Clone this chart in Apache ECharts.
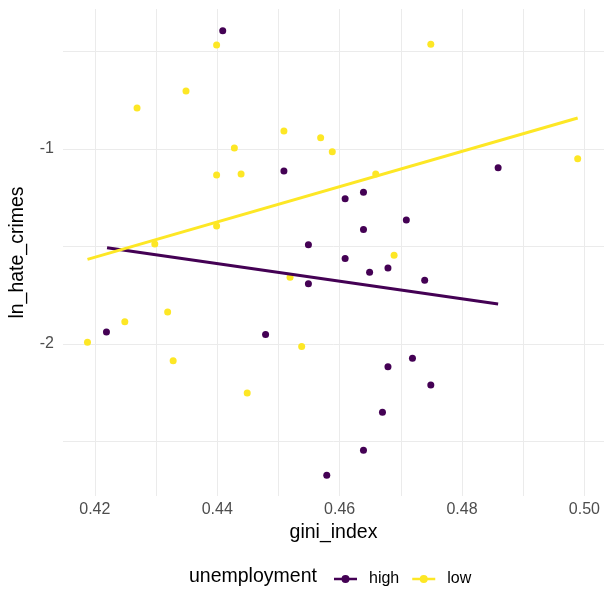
<!DOCTYPE html>
<html>
<head>
<meta charset="utf-8">
<script src="https://cdn.jsdelivr.net/npm/echarts@6/dist/echarts.min.js"></script>
<style>
html,body{margin:0;padding:0;background:#fff;}
#chart{width:604px;height:589px;}
</style>
</head>
<body>
<div id="chart"></div>
<script>
// ---- data ----
const giniHigh = [0.4409, 0.4509, 0.4859, 0.4609, 0.4639, 0.4709, 0.4639, 0.4549, 0.4609, 0.4679, 0.4649, 0.4739, 0.4549, 0.4219, 0.4479, 0.4679, 0.4719, 0.4749, 0.4670, 0.4639, 0.4579];
const lnHigh   = [-0.393, -1.113, -1.096, -1.255, -1.222, -1.364, -1.412, -1.491, -1.561, -1.610, -1.632, -1.673, -1.691, -1.938, -1.951, -2.116, -2.073, -2.210, -2.349, -2.545, -2.672];
const giniLow  = [0.4399, 0.4749, 0.4349, 0.4269, 0.4428, 0.4509, 0.4569, 0.4588, 0.4989, 0.4399, 0.4439, 0.4659, 0.4399, 0.4298, 0.4689, 0.4519, 0.4319, 0.4249, 0.4188, 0.4328, 0.4538, 0.4449];
const lnLow    = [-0.467, -0.463, -0.703, -0.790, -0.995, -0.908, -0.942, -1.014, -1.050, -1.133, -1.128, -1.128, -1.395, -1.487, -1.545, -1.658, -1.836, -1.886, -1.991, -2.086, -2.012, -2.251];
// fitted (lm) lines, endpoints
const fitHighX = [0.4220, 0.4859];
const fitHighY = [-1.506, -1.795];
const fitLowX  = [0.4188, 0.4989];
const fitLowY  = [-1.566, -0.841];
// ticks
const xGrid   = [0.42, 0.43, 0.44, 0.45, 0.46, 0.47, 0.48, 0.49, 0.50];
const xLabels = [0.42, 0.44, 0.46, 0.48, 0.50];
const yGrid   = [-2.5, -2, -1.5, -1, -0.5];
const yLabels = [-2, -1];
const groups  = ['high', 'low'];

const colHigh = '#440154';
const colLow  = '#FDE725';
const FONT = '"Liberation Sans", Arial, sans-serif';

const zip = (a, b) => a.map((v, i) => [v, b[i]]);

const chart = echarts.init(document.getElementById('chart'), null, {renderer: 'canvas'});
const iconPath = 'path://M0,2.75 L23,2.75 L23,5.25 L0,5.25 Z M7.5,4 A4,4 0 1,1 15.5,4 A4,4 0 1,1 7.5,4 Z';

chart.setOption({
  animation: false,
  backgroundColor: '#ffffff',
  grid: {left: 58, right: 0, top: 9, bottom: 93, containLabel: false},
  xAxis: {
    type: 'value',
    min: 0.4148, max: 0.5032,
    name: 'gini_index',
    nameLocation: 'middle',
    nameGap: 24,
    nameTextStyle: {fontFamily: FONT, fontSize: 19.5, color: '#000'},
    axisLine: {show: false},
    axisTick: {show: false, customValues: xGrid},
    axisLabel: {
      customValues: xLabels,
      formatter: v => v.toFixed(2),
      fontFamily: FONT, fontSize: 16, color: '#4d4d4d', margin: 6
    },
    splitLine: {show: true, lineStyle: {color: '#ebebeb', width: 1}}
  },
  yAxis: {
    type: 'value',
    min: -2.779, max: -0.282,
    name: 'ln_hate_crimes',
    nameLocation: 'middle',
    nameRotate: 90,
    nameGap: 35,
    nameTextStyle: {fontFamily: FONT, fontSize: 19.5, color: '#000'},
    axisLine: {show: false},
    axisTick: {show: false, customValues: yGrid},
    axisLabel: {
      customValues: yLabels,
      formatter: v => String(v),
      fontFamily: FONT, fontSize: 16, color: '#4d4d4d', margin: 9
    },
    splitLine: {show: true, lineStyle: {color: '#ebebeb', width: 1}}
  },
  legend: {
    data: groups,
    left: 329,
    top: 566,
    icon: iconPath,
    itemWidth: 23,
    itemHeight: 8,
    itemGap: 13,
    itemStyle: {opacity: 1},
    textStyle: {fontFamily: FONT, fontSize: 16, color: '#000', padding: [0, 0, 0, 7]}
  },
  graphic: [{
    type: 'text',
    x: 189, y: 577,
    style: {text: 'unemployment', fontFamily: FONT, fontSize: 19.5, fill: '#000', verticalAlign: 'middle', align: 'left'}
  }],
  series: [
    {name: groups[0], type: 'scatter', data: zip(giniHigh, lnHigh), symbolSize: 7, itemStyle: {color: colHigh, opacity: 1}},
    {name: groups[1], type: 'scatter', data: zip(giniLow, lnLow), symbolSize: 7, itemStyle: {color: colLow, opacity: 1}},
    {name: groups[0], type: 'line', data: zip(fitHighX, fitHighY), showSymbol: false, symbol: 'none', lineStyle: {color: colHigh, width: 3}, itemStyle: {color: colHigh}},
    {name: groups[1], type: 'line', data: zip(fitLowX, fitLowY), showSymbol: false, symbol: 'none', lineStyle: {color: colLow, width: 3}, itemStyle: {color: colLow}}
  ]
});
</script>
</body>
</html>
